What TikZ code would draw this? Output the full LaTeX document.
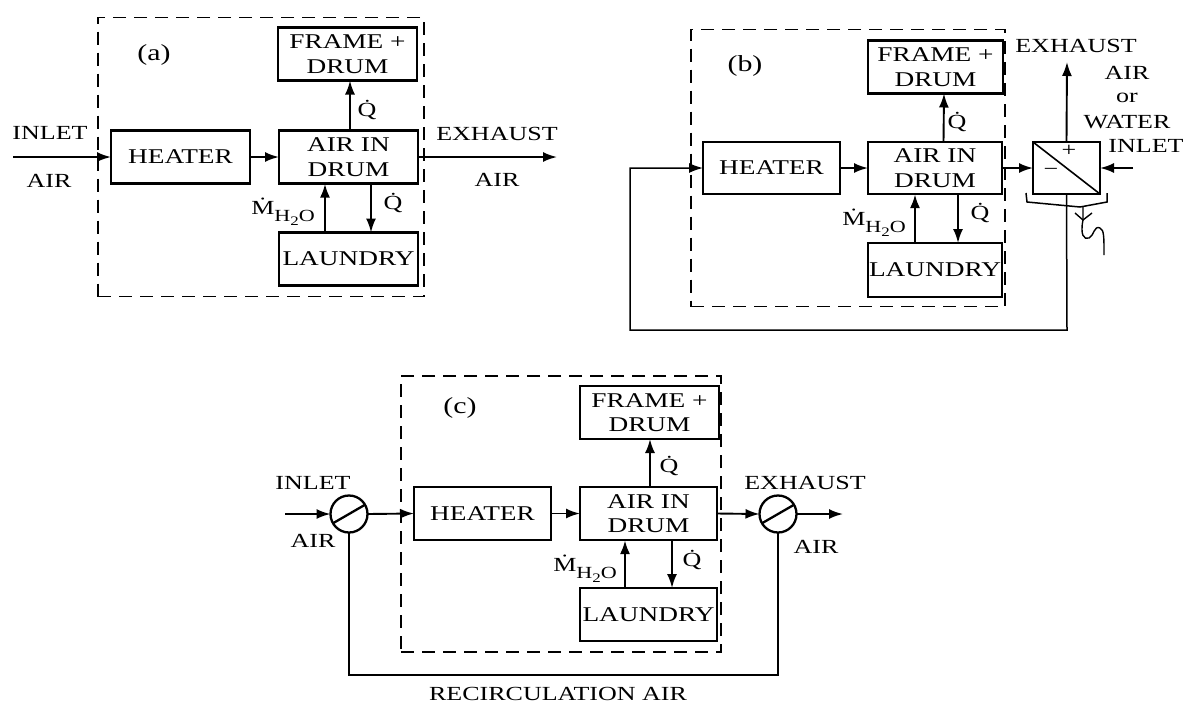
\documentclass[tikz,border=0pt]{standalone}
\usepackage{fontspec}
\setmainfont[FakeStretch=1.3]{Liberation Serif}
\usetikzlibrary{arrows.meta}
\newcommand{\Qd}{\.Q}
\newcommand{\Mflow}{\.M\raisebox{-7pt}{\fontsize{17}{17}\selectfont H\raisebox{-4pt}{\fontsize{13}{13}\selectfont 2}O}}
\tikzset{
  box/.style={draw,line width=2.5pt,inner sep=0pt,outer sep=0pt,align=center,font=\fontsize{21}{24.5}\selectfont},
  boxa/.style={box,minimum width=139pt,minimum height=53pt},
  sys/.style={draw,line width=1.8pt,dash pattern=on 13pt off 8pt,inner sep=0pt},
  lab/.style={inner sep=0pt,align=center,font=\fontsize{20}{24.5}\selectfont},
  title/.style={inner sep=0pt,font=\fontsize{23}{25}\selectfont},
  small/.style={lab,font=\fontsize{20}{22}\selectfont},
  arr/.style={line width=1.9pt,-{Latex[length=14pt,width=10pt]}},
  thickarr/.style={line width=2.7pt,-{Latex[length=14pt,width=10pt]}},
  pipe/.style={line width=1.7pt},
  valve/.style={draw,circle,line width=2.3pt,minimum size=37pt,inner sep=0pt,outer sep=0pt},
  bar/.style={line width=2.3pt}
}
\begin{document}
\begin{tikzpicture}[x=1pt,y=-1pt]
\useasboundingbox (0,0) rectangle (1184,705);
% ---------- (a)
\node[sys,minimum width=326pt,minimum height=279pt] (sa) at (261,157) {};
\node[boxa] (fa) at (347.5,54) {FRAME +\\DRUM};
\node[boxa] (ha) at (180.5,157) {HEATER};
\node[boxa] (aa) at (348.5,157) {AIR IN\\DRUM};
\node[boxa] (la) at (348.5,259) {LAUNDRY};
\coordinate (ia) at (13,157);
\coordinate (ea) at (557,157);
\draw[arr] (ia) -- (ha.west);
\draw[arr] (ha.east) -- (aa.west);
\draw[arr] (aa.east) -- (ea);
\draw[arr] ([xshift=1.5pt]aa.north) -- ([xshift=2.5pt]fa.south);
\draw[thickarr] ([xshift=-23.5pt]la.north) -- ([xshift=-23.5pt]aa.south);
\draw[arr] ([xshift=22.5pt]aa.south) -- ([xshift=22.5pt]la.north);
\node[title] (ta) at (154,55) {(a)};
\node[lab] (ina) at (50,133) {INLET};
\node[lab] (aia) at (49,181) {AIR};
\node[lab] (exa) at (497,134) {EXHAUST};
\node[lab] (aoa) at (497,180) {AIR};
\node[small] (qa1) at (367,110) {\Qd};
\node[small] (qa2) at (393,203) {\Qd};
\node[small] (ma) at (283,212) {\Mflow};
% ---------- (b)
\node[sys,minimum width=314pt,minimum height=277pt] (sb) at (848,168) {};
\node[boxa,minimum width=135pt] (fb) at (935.5,67) {FRAME +\\DRUM};
\node[boxa,minimum width=134pt,minimum height=52pt] (ab) at (935,168) {AIR IN\\DRUM};
\node[boxa,minimum width=137pt,minimum height=52pt] (hb) at (771.5,168) {HEATER};
\node[boxa,minimum width=134pt,minimum height=54pt] (lb) at (935,270) {LAUNDRY};
\node[draw,line width=2.2pt,minimum width=67pt,minimum height=52pt,inner sep=0pt,outer sep=0pt] (sp) at (1066.5,168) {};
\draw[line width=1.6pt] (sp.north west) -- (sp.south east);
\node[lab] (pl) at (1069,151) {+};
\node[lab] (mn) at (1051,172) {\textminus};
\coordinate (eb) at (1067,62);
\coordinate (ib) at (1133,168);
\coordinate (r1) at (1067,330);
\coordinate (r2) at (630,330);
\coordinate (r3) at (630,168);
\draw[arr] (hb.east) -- (ab.west);
\draw[arr] (ab.east) -- (sp.west);
\draw[arr] (ib) -- (sp.east);
\draw[arr] (sp.north) -- (eb);
\draw[arr,line width=1.5pt] (sp.south) -- (r1) -- (r2) -- (r3) -- (hb.west);
\draw[arr] ([xshift=8.5pt]ab.north) -- ([xshift=8.5pt]fb.south);
\draw[thickarr] ([xshift=-20pt]lb.north) -- ([xshift=-20pt]ab.south);
\draw[arr] ([xshift=23pt]ab.south) -- ([xshift=23pt]lb.north);
\coordinate (t1) at (1026,193); \coordinate (t2) at (1027,202);
\coordinate (t3) at (1080,207); \coordinate (t4) at (1107,202);
\coordinate (t5) at (1107,193);
\draw[line width=1.5pt] (t1) -- (t2) -- (t3) -- (t4) -- (t5);
\coordinate (y1) at (1075,213); \coordinate (y2) at (1083,220);
\coordinate (y3) at (1092,213); \coordinate (y4) at (1083,207);
\coordinate (y5) at (1104,255);
\draw[line width=1.4pt] (y1) -- (y2) -- (y3);
\draw[line width=1.4pt] (y4) -- (y2) .. controls (1080,235) and (1084,240) .. (1089,238) .. controls (1094,236) and (1094,225) .. (1100,228) .. controls (1104,230) and (1104,236) .. (y5);
\node[title] (tb) at (745,66) {(b)};
\node[lab] (exb) at (1076,46) {EXHAUST};
\node[lab] (aib) at (1127,73) {AIR};
\node[lab] (orb) at (1127,98) {or};
\node[lab] (wb) at (1127,122) {WATER};
\node[lab] (inb) at (1146,146) {INLET};
\node[small] (qb1) at (957,122) {\Qd};
\node[small] (qb2) at (980,213) {\Qd};
\node[small] (mb) at (874,223) {\Mflow};
% ---------- (c)
\node[sys,minimum width=320pt,minimum height=276pt] (sc) at (561,514) {};
\node[boxa] (fc) at (649.5,412.5) {FRAME +\\DRUM};
\node[boxa,minimum width=137pt] (hc) at (482.5,513.5) {HEATER};
\node[boxa,minimum width=137pt] (ac) at (648.5,513.5) {AIR IN\\DRUM};
\node[boxa,minimum width=137pt] (lc) at (648.5,614.5) {LAUNDRY};
\node[valve] (v1) at (349,514) {};
\node[valve] (v2) at (778,514) {};
\draw[bar] (v1.210) -- (v1.30);
\draw[bar] (v2.210) -- (v2.30);
\coordinate (ic) at (285,514);
\coordinate (ec) at (843,514);
\coordinate (rc1) at (349,675);
\coordinate (rc2) at (778,675);
\draw[arr] (ic) -- (v1.west);
\draw[arr] (v1.east) -- (hc.west);
\draw[arr] (hc.east) -- (ac.west);
\draw[arr] (ac.east) -- (v2.west);
\draw[arr] (v2.east) -- (ec);
\draw[pipe] (v1.south) -- (rc1) -- (rc2) -- (v2.south);
\draw[arr] ([xshift=1.5pt]ac.north) -- ([xshift=0.5pt]fc.south);
\draw[thickarr] ([xshift=-23.5pt]lc.north) -- ([xshift=-23.5pt]ac.south);
\draw[arr] ([xshift=23.5pt]ac.south) -- ([xshift=23.5pt]lc.north);
\node[title] (tc) at (460,408) {(c)};
\node[lab] (inc) at (313,483) {INLET};
\node[lab] (aic) at (313,541) {AIR};
\node[lab] (exc) at (805,483) {EXHAUST};
\node[lab] (aoc) at (816,547) {AIR};
\node[lab] (rc) at (558,694) {RECIRCULATION AIR};
\node[small] (qc1) at (669,466) {\Qd};
\node[small] (qc2) at (692,560) {\Qd};
\node[small] (mc) at (585,569) {\Mflow};
\end{tikzpicture}
\end{document}
